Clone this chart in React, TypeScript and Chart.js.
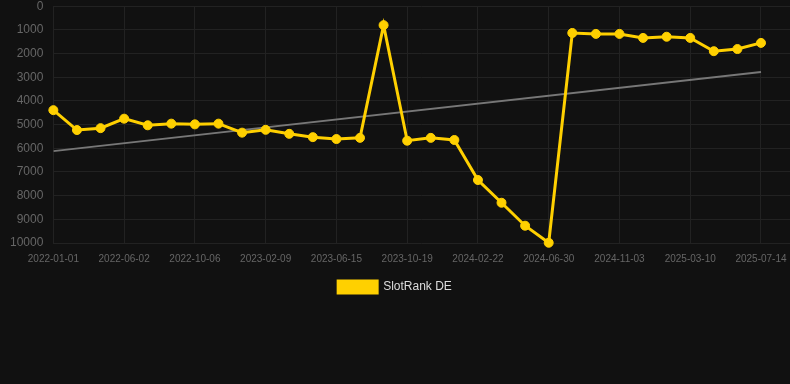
import React, { useEffect, useRef } from "react";
import { Chart, registerables } from "chart.js";

Chart.register(...registerables);

const dates: string[] = [
  "2022-01-01", "2022-02-20", "2022-04-11", "2022-06-02", "2022-07-14", "2022-08-25",
  "2022-10-06", "2022-11-17", "2022-12-29", "2023-02-09", "2023-03-23", "2023-05-04",
  "2023-06-15", "2023-07-27", "2023-09-07", "2023-10-19", "2023-11-30", "2024-01-11",
  "2024-02-22", "2024-04-04", "2024-05-17", "2024-06-30", "2024-08-11", "2024-09-22",
  "2024-11-03", "2024-12-15", "2025-01-27", "2025-03-10", "2025-04-21", "2025-06-02",
  "2025-07-14",
];

const rankDE: number[] = [
  4390, 5230, 5150, 4750, 5030, 4960, 4990, 4960, 5340, 5220, 5390, 5530, 5610, 5560,
  800, 5680, 5560, 5650, 7340, 8300, 9270, 9990, 1130, 1170, 1170, 1340, 1290, 1340,
  1900, 1810, 1550,
];

const trendStart = 6120;
const trendEnd = 2780;

const yTicks: number[] = [0, 1000, 2000, 3000, 4000, 5000, 6000, 7000, 8000, 9000, 10000];

const labelEvery = 3;
const xMax = 31.23;

export default function App() {
  const ref = useRef<HTMLCanvasElement | null>(null);

  useEffect(() => {
    document.body.style.margin = "0";
    document.body.style.background = "#111111";
    document.body.style.overflow = "hidden";
    const lastIdx = dates.length - 1;
    const rankPts = rankDE.map((y, i) => ({ x: i, y }));
    const trendPts = [
      { x: 0, y: trendStart },
      { x: lastIdx, y: trendEnd },
    ];
    const chart = new Chart(ref.current as HTMLCanvasElement, {
      type: "line",
      data: {
        datasets: [
          {
            label: "SlotRank DE",
            data: rankPts,
            borderColor: "#FFD000",
            backgroundColor: "#FFD000",
            borderWidth: 3,
            pointRadius: 4.5,
            pointHoverRadius: 4.5,
            pointBorderWidth: 1,
            pointBackgroundColor: "#FFD000",
            pointBorderColor: "#FFD000",
            tension: 0,
            clip: false,
          },
          {
            label: "trend",
            data: trendPts,
            borderColor: "#777777",
            backgroundColor: "#777777",
            borderWidth: 2,
            pointRadius: 0,
          },
        ],
      },
      options: {
        animation: false,
        responsive: false,
        maintainAspectRatio: false,
        layout: { autoPadding: false, padding: { left: 0, right: 0, top: 0, bottom: 0 } },
        plugins: {
          legend: {
            position: "bottom",
            labels: {
              color: "#dddddd",
              boxWidth: 39,
              boxHeight: 12,
              padding: 6,
              font: { size: 12 },
              filter: (item) => item.text !== "trend",
            },
          },
          tooltip: { enabled: false },
        },
        scales: {
          x: {
            type: "linear",
            min: 0,
            max: xMax,
            afterBuildTicks: (scale: any) => {
              const t: { value: number }[] = [];
              for (let i = 0; i < dates.length; i += labelEvery) t.push({ value: i });
              scale.ticks = t;
            },
            afterFit: (scale: any) => {
              scale.paddingRight = 0;
            },
            grid: { color: "#222222", drawTicks: false },
            border: { display: false },
            ticks: {
              autoSkip: false,
              maxRotation: 0,
              color: "#666666",
              font: { size: 10 },
              padding: 10,
              callback: (v: any) => dates[Math.round(v)] ?? "",
            },
          },
          y: {
            reverse: true,
            min: 0,
            max: 10000,
            afterBuildTicks: (scale: any) => {
              scale.ticks = yTicks.map((v) => ({ value: v }));
            },
            grid: { color: "#222222", drawTicks: false },
            border: { display: false },
            ticks: {
              color: "#666666",
              font: { size: 12 },
              padding: 10,
              callback: (v: any) => String(v),
            },
          },
        },
      },
    });
    return () => chart.destroy();
  }, []);

  return (
    <div style={{ width: 790, height: 384, background: "#111111", overflow: "hidden" }}>
      <canvas
        ref={ref}
        width={790}
        height={314}
        style={{ display: "block", marginTop: -11 }}
      />
    </div>
  );
}
